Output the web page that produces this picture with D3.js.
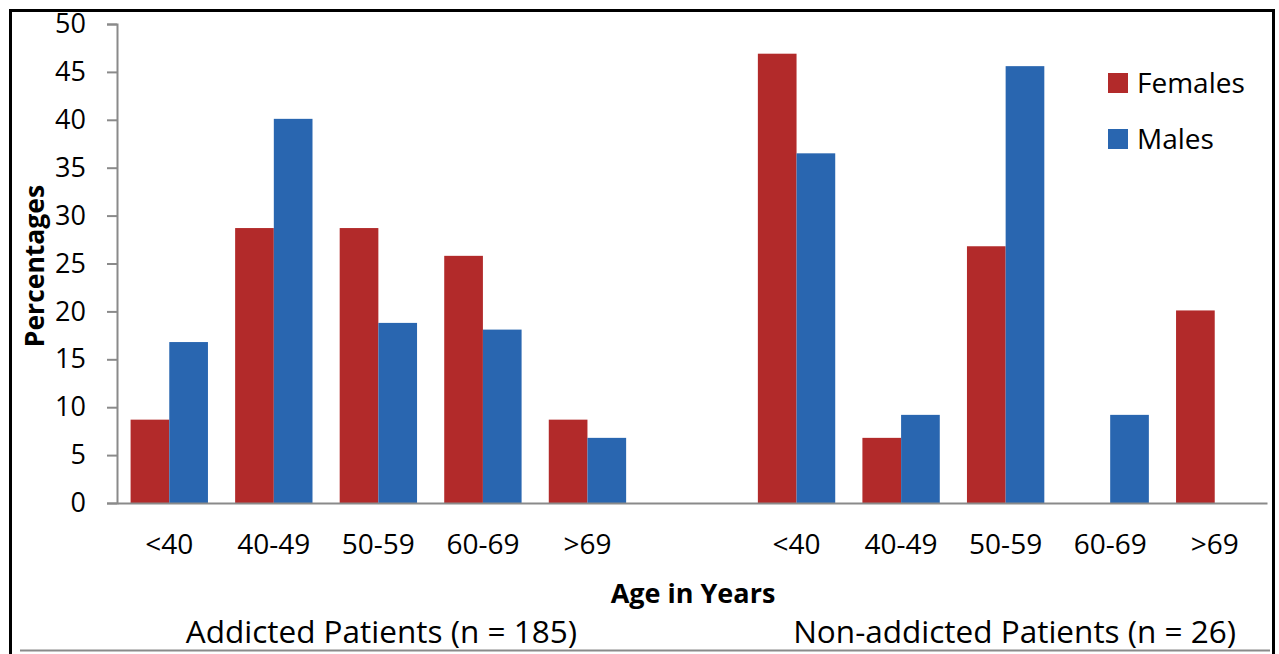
<!DOCTYPE html>
<html>
<head>
<meta charset="utf-8">
<script src="https://cdn.jsdelivr.net/npm/d3@7"></script>
<style>
  body { margin: 0; background: #fff; }
  text { font-family: "Open Sans", sans-serif; }
</style>
</head>
<body>
<div id="chart"></div>
<script>
// age groups, shown once for each patient group
var ageGroups = ["<40", "40-49", "50-59", "60-69", ">69"]
var patientGroups = ["Addicted Patients (n = 185)", "Non-addicted Patients (n = 26)"]
var seriesNames = ["Females", "Males"]
var seriesColors = ["#B22A2A", "#2966B0"]

// percentages
var addictedFemales = [8.7, 28.7, 28.7, 25.8, 8.7]
var addictedMales = [16.8, 40.1, 18.8, 18.1, 6.8]
var nonAddictedFemales = [46.9, 6.8, 26.8, 0, 20.1]
var nonAddictedMales = [36.5, 9.2, 45.6, 9.2, 0]

var yTicks = [0, 5, 10, 15, 20, 25, 30, 35, 40, 45, 50]

var width = 1279, height = 654
var margin = { top: 24, right: 12, bottom: 151, left: 117 }

// 11 slots: 5 ages, an empty slot, 5 ages
var slots = []
ageGroups.forEach(function (a, i) {
  slots.push({ key: "A" + i, label: a, f: addictedFemales[i], m: addictedMales[i] })
})
slots.push({ key: "gap", label: "", f: null, m: null })
ageGroups.forEach(function (a, i) {
  slots.push({ key: "N" + i, label: a, f: nonAddictedFemales[i], m: nonAddictedMales[i] })
})

var svg = d3.select("#chart").append("svg")
  .attr("width", width)
  .attr("height", height)

// outer frame
svg.append("path")
  .attr("d", "M10.5,660 V10.5 H1273.5 V660")
  .attr("fill", "none")
  .attr("stroke", "#000")
  .attr("stroke-width", 3)

svg.append("line")
  .attr("x1", 20).attr("x2", 1270)
  .attr("y1", 650.5).attr("y2", 650.5)
  .attr("stroke", "#8a8a8a")
  .attr("stroke-width", 2)

var innerW = width - margin.left - margin.right
var innerH = height - margin.top - margin.bottom

var g = svg.append("g")
  .attr("transform", "translate(" + margin.left + "," + margin.top + ")")

var x = d3.scaleBand()
  .domain(slots.map(function (d) { return d.key }))
  .range([0, innerW])
  .paddingInner(0.26)
  .paddingOuter(0.13)

var x1 = d3.scaleBand()
  .domain(seriesNames)
  .range([0, x.bandwidth()])

var y = d3.scaleLinear()
  .domain([0, 50])
  .range([innerH, 0])

// bars
var groups = g.selectAll(".slot")
  .data(slots.filter(function (d) { return d.key != "gap" }))
  .enter().append("g")
  .attr("transform", function (d) { return "translate(" + x(d.key) + ",0)" })

groups.selectAll("rect")
  .data(function (d) { return [{ s: "Females", v: d.f }, { s: "Males", v: d.m }] })
  .enter().append("rect")
  .attr("x", function (d) { return x1(d.s) })
  .attr("width", x1.bandwidth())
  .attr("y", function (d) { return y(d.v) })
  .attr("height", function (d) { return innerH - y(d.v) })
  .attr("fill", function (d, i) { return seriesColors[i] })

// y axis
var yAxis = g.append("g")
  .call(d3.axisLeft(y).tickValues(yTicks).tickSize(10).tickPadding(21))
yAxis.select(".domain").attr("stroke", "#8a8a8a").attr("stroke-width", 2)
yAxis.selectAll(".tick line").attr("stroke", "#8a8a8a").attr("stroke-width", 2)
yAxis.selectAll("text")
  .attr("font-size", 27)
  .attr("fill", "#000")
  .style("font-family", "Open Sans")

// x axis
var xAxis = g.append("g")
  .attr("transform", "translate(0," + innerH + ")")
  .call(d3.axisBottom(x).tickSize(0).tickSizeOuter(0).tickPadding(31)
    .tickFormat(function (k) {
      var s = slots.find(function (d) { return d.key == k })
      return s.label
    }))
xAxis.select(".domain").attr("stroke", "#8a8a8a").attr("stroke-width", 2)
xAxis.selectAll("text")
  .attr("font-size", 28)
  .attr("fill", "#000")
  .style("font-family", "Open Sans")

// axis titles
svg.append("text")
  .attr("transform", "translate(44,266) rotate(-90)")
  .attr("text-anchor", "middle")
  .attr("font-size", 26.5)
  .attr("font-weight", "bold")
  .text("Percentages")

svg.append("text")
  .attr("x", 693)
  .attr("y", 603)
  .attr("text-anchor", "middle")
  .attr("font-size", 27)
  .attr("font-weight", "bold")
  .text("Age in Years")

// patient group labels under each half
var halfCenters = [
  (x("A0") + x("A4") + x.bandwidth()) / 2 + margin.left,
  (x("N0") + x("N4") + x.bandwidth()) / 2 + margin.left
]
svg.selectAll(".patients")
  .data(patientGroups)
  .enter().append("text")
  .attr("class", "patients")
  .attr("x", function (d, i) { return halfCenters[i] + (i == 0 ? 3 : 9) })
  .attr("y", 643)
  .attr("text-anchor", "middle")
  .attr("font-size", 31.5)
  .text(function (d) { return d })

// legend
var legend = svg.append("g")
  .attr("transform", "translate(1108,73)")
legend.selectAll("rect")
  .data(seriesNames)
  .enter().append("rect")
  .attr("x", 0)
  .attr("y", function (d, i) { return i * 56 })
  .attr("width", 20)
  .attr("height", 20)
  .attr("fill", function (d, i) { return seriesColors[i] })
legend.selectAll("text")
  .data(seriesNames)
  .enter().append("text")
  .attr("x", 29)
  .attr("y", function (d, i) { return i * 56 + 20 })
  .attr("font-size", 28)
  .text(function (d) { return d })
</script>
</body>
</html>
